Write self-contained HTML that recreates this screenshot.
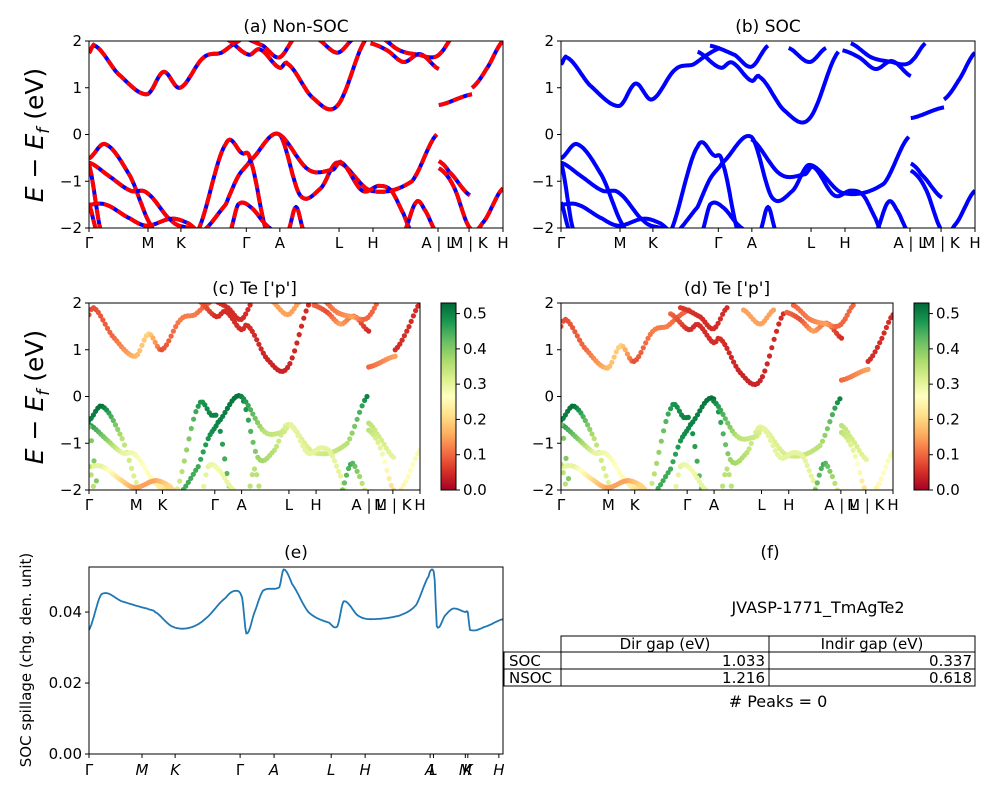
<!DOCTYPE html>
<html><head><meta charset="utf-8"><style>
html,body{margin:0;padding:0;background:#fff;width:1000px;height:800px;overflow:hidden}
svg{font-family:"DejaVu Sans","Liberation Sans",sans-serif}
</style></head><body>
<svg id="fig" width="1000" height="800" viewBox="0 0 1000 800"></svg>
<script>
// ---- band data: each band is a list of [k (path fraction), E (eV), Te-p weight] ----
const bandsNSOC = [
 [[0,1.75,.08],[0.014,1.9,.08],[0.07,1.3,.1],[0.14,0.86,.17],[0.18,1.34,.2],[0.22,1.0,.08],[0.276,1.64,.12],[0.32,1.75,.12],[0.35,1.94,.1],[0.385,2.1,.1]],
 [[0.33,2.05,.1],[0.385,1.71,.05],[0.413,1.82,.05],[0.46,1.43,.05],[0.48,1.51,.05],[0.54,0.79,.04],[0.6,0.62,.04],[0.67,2.05,.05]],
 [[0.36,2.1,.06],[0.42,1.9,.05],[0.46,1.65,.05],[0.5,2.1,.05]],
 [[0.55,2.05,.15],[0.6,1.75,.15],[0.64,2.05,.15]],
 [[0.68,1.95,.1],[0.72,1.8,.08],[0.76,1.55,.15],[0.8,1.72,.1],[0.845,1.4,.05]],
 [[0.7,2.1,.1],[0.75,1.8,.12],[0.8,1.7,.15],[0.83,1.65,.1],[0.85,1.75,.1],[0.88,2.1,.1]],
 [[0.845,0.63,.1],[0.925,0.86,.15]],
 [[0.925,1.0,.05],[0.96,1.4,.05],[1.0,2.0,.05]],
 [[0,-0.51,.5],[0.04,-0.21,.52],[0.1,-0.9,.35],[0.15,-1.95,.3],[0.18,-2.2,.3]],
 [[0.26,-2.1,.3],[0.33,-0.21,.47],[0.37,-0.4,.5],[0.39,-0.55,.5],[0.43,-2.1,.4]],
 [[0.27,-2.1,.45],[0.33,-1.5,.45],[0.36,-0.9,.48],[0.39,-0.55,.5],[0.46,0.0,.52],[0.51,-1.3,.38],[0.56,-1.15,.35],[0.6,-0.6,.3],[0.68,-1.2,.32],[0.78,-1.0,.35],[0.84,0.0,.5]],
 [[0.46,0.0,.5],[0.53,-0.75,.35],[0.59,-0.75,.33],[0.61,-0.6,.3],[0.66,-1.2,.3],[0.7,-1.1,.3],[0.73,-1.2,.3],[0.76,-1.7,.3],[0.78,-2.1,.3]],
 [[0,-0.6,.48],[0.05,-0.9,.4],[0.1,-1.2,.3],[0.14,-1.25,.28],[0.2,-1.85,.25],[0.24,-2.0,.2],[0.26,-2.1,.2]],
 [[0,-1.5,.3],[0.04,-1.5,.3],[0.1,-1.8,.2],[0.14,-1.95,.15],[0.2,-1.8,.15],[0.24,-1.9,.2],[0.27,-2.1,.2]],
 [[0,-0.65,.4],[0.03,-2.1,.4]],
 [[0,-1.5,.35],[0.02,-2.1,.35]],
 [[0.34,-2.1,.3],[0.36,-1.5,.3],[0.39,-1.55,.28],[0.43,-1.95,.3],[0.46,-2.1,.3]],
 [[0.48,-2.1,.35],[0.5,-1.55,.35],[0.52,-2.1,.35]],
 [[0.76,-2.1,.4],[0.79,-1.45,.45],[0.81,-1.6,.4],[0.84,-2.1,.3]],
 [[0.845,-0.57,.35],[0.87,-0.8,.33],[0.92,-1.3,.3]],
 [[0.845,-0.72,.35],[0.88,-1.1,.3],[0.92,-2.0,.2],[0.95,-1.9,.25],[1.0,-1.15,.28]]
];
// SOC band-set offsets (conduction, valence) per band index
const socShift = [-0.25,-0.28,-0.2,-0.2,-0.15,-0.15,-0.28,-0.25,0,-0.05,-0.05,-0.1,0,0,0.05,0.05,0,0,0,-0.05,-0.05];
const kTicks = [0,0.1425,0.222,0.38,0.461,0.604,0.686,0.843,0.918,1.0];
const kLabels = ['Γ','M','K','Γ','A','L','H','A | L','M | K','H'];
const eTicks = [2,1,0,-1,-2];
const cbTicks = [0,0.1,0.2,0.3,0.4,0.5];
// spillage
const spillK = [0,0.03,0.08,0.14,0.16,0.2,0.24,0.28,0.33,0.355,0.37,0.38,0.40,0.42,0.46,0.47,0.49,0.53,0.58,0.6,0.615,0.65,0.68,0.75,0.79,0.82,0.83,0.835,0.84,0.86,0.88,0.91,0.915,0.92,0.96,1.0];
const spillV = [0.035,0.045,0.043,0.041,0.040,0.036,0.0355,0.038,0.044,0.046,0.044,0.034,0.040,0.046,0.047,0.052,0.048,0.040,0.037,0.036,0.043,0.039,0.038,0.039,0.042,0.050,0.052,0.049,0.036,0.039,0.041,0.040,0.040,0.035,0.036,0.038];
const spillTicks = [0,0.02,0.04];
const spillKT = [0,0.128,0.208,0.365,0.447,0.585,0.667,0.824,0.832,0.909,0.915,0.99];
const spillKL = ['Γ','M','K','Γ','A','L','H','A','L','M','K','H'];

const NS='http://www.w3.org/2000/svg';
const svg=document.getElementById('fig');
function el(t,a,p){const e=document.createElementNS(NS,t);for(const k in a)e.setAttribute(k,a[k]);(p||svg).appendChild(e);return e;}
function txt(x,y,s,a,p){const e=el('text',Object.assign({x:x,y:y,'font-size':14,'text-anchor':'middle',fill:'#000'},a||{}),p);e.textContent=s;return e;}
const stops=['#a50026','#d73027','#f46d43','#fdae61','#fee08b','#ffffbf','#d9ef8b','#a6d96a','#66bd63','#1a9850','#006837'];
function hex(h){return [1,3,5].map(i=>parseInt(h.substr(i,2),16));}
function cmap(v){let t=Math.max(0,Math.min(1,v/0.53))*10;const i=Math.min(9,Math.floor(t)),f=t-i;const a=hex(stops[i]),b=hex(stops[i+1]);return 'rgb('+a.map((c,j)=>Math.round(c+(b[j]-c)*f)).join(',')+')';}
// catmull-rom sample
function sample(band,step){const out=[];for(let i=0;i<band.length-1;i++){const p0=band[Math.max(0,i-1)],p1=band[i],p2=band[i+1],p3=band[Math.min(band.length-1,i+2)];const n=Math.max(2,Math.ceil((p2[0]-p1[0])/step));for(let j=0;j<n;j++){const t=j/n,t2=t*t,t3=t2*t;const cr=(a,b,c,d)=>0.5*(2*b+(-a+c)*t+(2*a-5*b+4*c-d)*t2+(-a+3*b-3*c+d)*t3);out.push([p1[0]+(p2[0]-p1[0])*t,cr(p0[1],p1[1],p2[1],p3[1]),p1[2]+(p2[2]-p1[2])*t]);}}out.push(band[band.length-1]);return out;}
let clipN=0;
function panel(name,x0,y0,w,h,title,mode,bands,shift){
 const g=el('g',{});
 const xs=k=>x0+k*w, ys=E=>y0+h/2-E*(h/4);
 const cid='c'+(clipN++);const cp=el('clipPath',{id:cid},g);el('rect',{x:x0,y:y0,width:w,height:h},cp);
 const plot=el('g',{'clip-path':'url(#'+cid+')'},g);
 bands.forEach((b,bi)=>{const s=shift?shift[bi]:0;const pts=sample(b.map(p=>[p[0],p[1]+s,p[2]]),mode==='scatter'?0.0075:0.003);
  if(mode==='scatter'){pts.forEach(p=>{const c=el('circle',{cx:xs(p[0]).toFixed(1),cy:ys(p[1]).toFixed(1),r:2.6,fill:cmap(p[2])},plot);});}
  else{const d='M'+pts.map(p=>xs(p[0]).toFixed(1)+','+ys(p[1]).toFixed(1)).join('L');
   const l=el('path',{d:d,fill:'none',stroke:'#0000ff','stroke-width':4,'stroke-linejoin':'round'},plot);
   if(mode==='dash'){const r=el('path',{d:d,fill:'none',stroke:'#ff0000','stroke-width':4,'stroke-dasharray':'11,4'},plot);}}
 });
 el('rect',{x:x0,y:y0,width:w,height:h,fill:'none',stroke:'#000','stroke-width':1},g);
 eTicks.forEach(E=>{const y=ys(E);el('line',{x1:x0-4,x2:x0,y1:y,y2:y,stroke:'#000'},g);const t=txt(x0-7,y+5,String(E).replace('-','−'),{'text-anchor':'end','font-size':15},g);});
 kTicks.forEach((k,i)=>{const x=xs(k);el('line',{x1:x,x2:x,y1:y0+h,y2:y0+h+4,stroke:'#000'},g);const t=txt(x,y0+h+20,kLabels[i],{'font-size':15},g);});
 const tt=txt(x0+w/2,y0-9,title,{'font-size':17},g);
}
function colorbar(name,x0,y0,w,h){
 const g=el('g',{});
 const gid='g'+name;const lg=el('linearGradient',{id:gid,x1:0,y1:1,x2:0,y2:0},g);
 for(let i=0;i<=20;i++){el('stop',{offset:i/20,'stop-color':cmap(0.53*i/20)},lg);}
 el('rect',{x:x0,y:y0,width:w,height:h,fill:'url(#'+gid+')',stroke:'#000'},g);
 cbTicks.forEach(v=>{const y=y0+h-v/0.53*h;el('line',{x1:x0+w,x2:x0+w+4,y1:y,y2:y,stroke:'#000'},g);txt(x0+w+7,y+5,v.toFixed(1),{'text-anchor':'start','font-size':15},g);});
}
panel('panel-a-nonsoc',89,41,414,187,'(a) Non-SOC','dash',bandsNSOC,null);
panel('panel-b-soc',561,41,414,187,'(b) SOC','line',bandsNSOC,socShift);
panel('panel-c-te-p-nonsoc',89,303,331,187,"(c)  Te ['p']",'scatter',bandsNSOC,null);
panel('panel-d-te-p-soc',561,303,332,187,"(d) Te ['p']",'scatter',bandsNSOC,socShift);
colorbar('colorbar-c',441,303,15,187);
colorbar('colorbar-d',914,303,15,187);
[135,397].forEach(cy=>{const t=el('text',{x:0,y:0,'font-size':25,'text-anchor':'middle',transform:'translate(43,'+cy+') rotate(-90)'});t.innerHTML='<tspan font-style="italic">E</tspan> − <tspan font-style="italic">E</tspan><tspan font-style="italic" font-size="17" dy="6">f</tspan><tspan dy="-6"> (eV)</tspan>';});
// spillage panel
(function(){const x0=89,y0=567,w=414,h=187,ymax=0.0527;const xs=k=>x0+k*w,ys=v=>y0+h-v/ymax*h;
 const g=el('g',{});
 const pts=sample(spillK.map((k,i)=>[k,spillV[i],0]),0.003);
 const l=el('path',{d:'M'+pts.map(p=>xs(p[0]).toFixed(1)+','+ys(p[1]).toFixed(1)).join('L'),fill:'none',stroke:'#1f77b4','stroke-width':1.8},g);
 el('rect',{x:x0,y:y0,width:w,height:h,fill:'none',stroke:'#000'},g);
 spillTicks.forEach(v=>{const y=ys(v);el('line',{x1:x0-4,x2:x0,y1:y,y2:y,stroke:'#000'},g);txt(x0-7,y+5,v.toFixed(2),{'text-anchor':'end','font-size':15},g);});
 spillKT.forEach((k,i)=>{const x=xs(k);el('line',{x1:x,x2:x,y1:y0+h,y2:y0+h+4,stroke:'#000'},g);txt(x,y0+h+21,spillKL[i],{'font-size':15,'font-style':spillKL[i]==='Γ'?'normal':'italic'},g);});
 txt(x0+w/2,y0-9,'(e)',{'font-size':17},g);
 const t=txt(0,0,'SOC spillage (chg. den. unit)',{'font-size':15,transform:'translate(31,660) rotate(-90)'},g);
})();
// table panel
(function(){const g=el('g',{});
 txt(770,558,'(f)',{'font-size':17},g);
 txt(818,613,'JVASP-1771_TmAgTe2',{'font-size':16},g);
 el('rect',{x:561,y:636,width:414,height:16,fill:'none',stroke:'#000'},g);
 el('rect',{x:504,y:652,width:471,height:17,fill:'none',stroke:'#000'},g);
 el('rect',{x:504,y:669,width:471,height:17,fill:'none',stroke:'#000'},g);
 el('line',{x1:561,x2:561,y1:652,y2:686,stroke:'#000'},g);
 el('line',{x1:769,x2:769,y1:636,y2:686,stroke:'#000'},g);
 txt(665,649,'Dir gap (eV)',{'font-size':15},g);txt(872,649,'Indir gap (eV)',{'font-size':15},g);
 txt(509,666,'SOC',{'font-size':15,'text-anchor':'start'},g);txt(509,683,'NSOC',{'font-size':15,'text-anchor':'start'},g);
 txt(765,666,'1.033',{'font-size':15,'text-anchor':'end'},g);txt(972,666,'0.337',{'font-size':15,'text-anchor':'end'},g);
 txt(765,683,'1.216',{'font-size':15,'text-anchor':'end'},g);txt(972,683,'0.618',{'font-size':15,'text-anchor':'end'},g);
 txt(778,707,'# Peaks = 0',{'font-size':16},g);
})();
</script>
</body></html>
